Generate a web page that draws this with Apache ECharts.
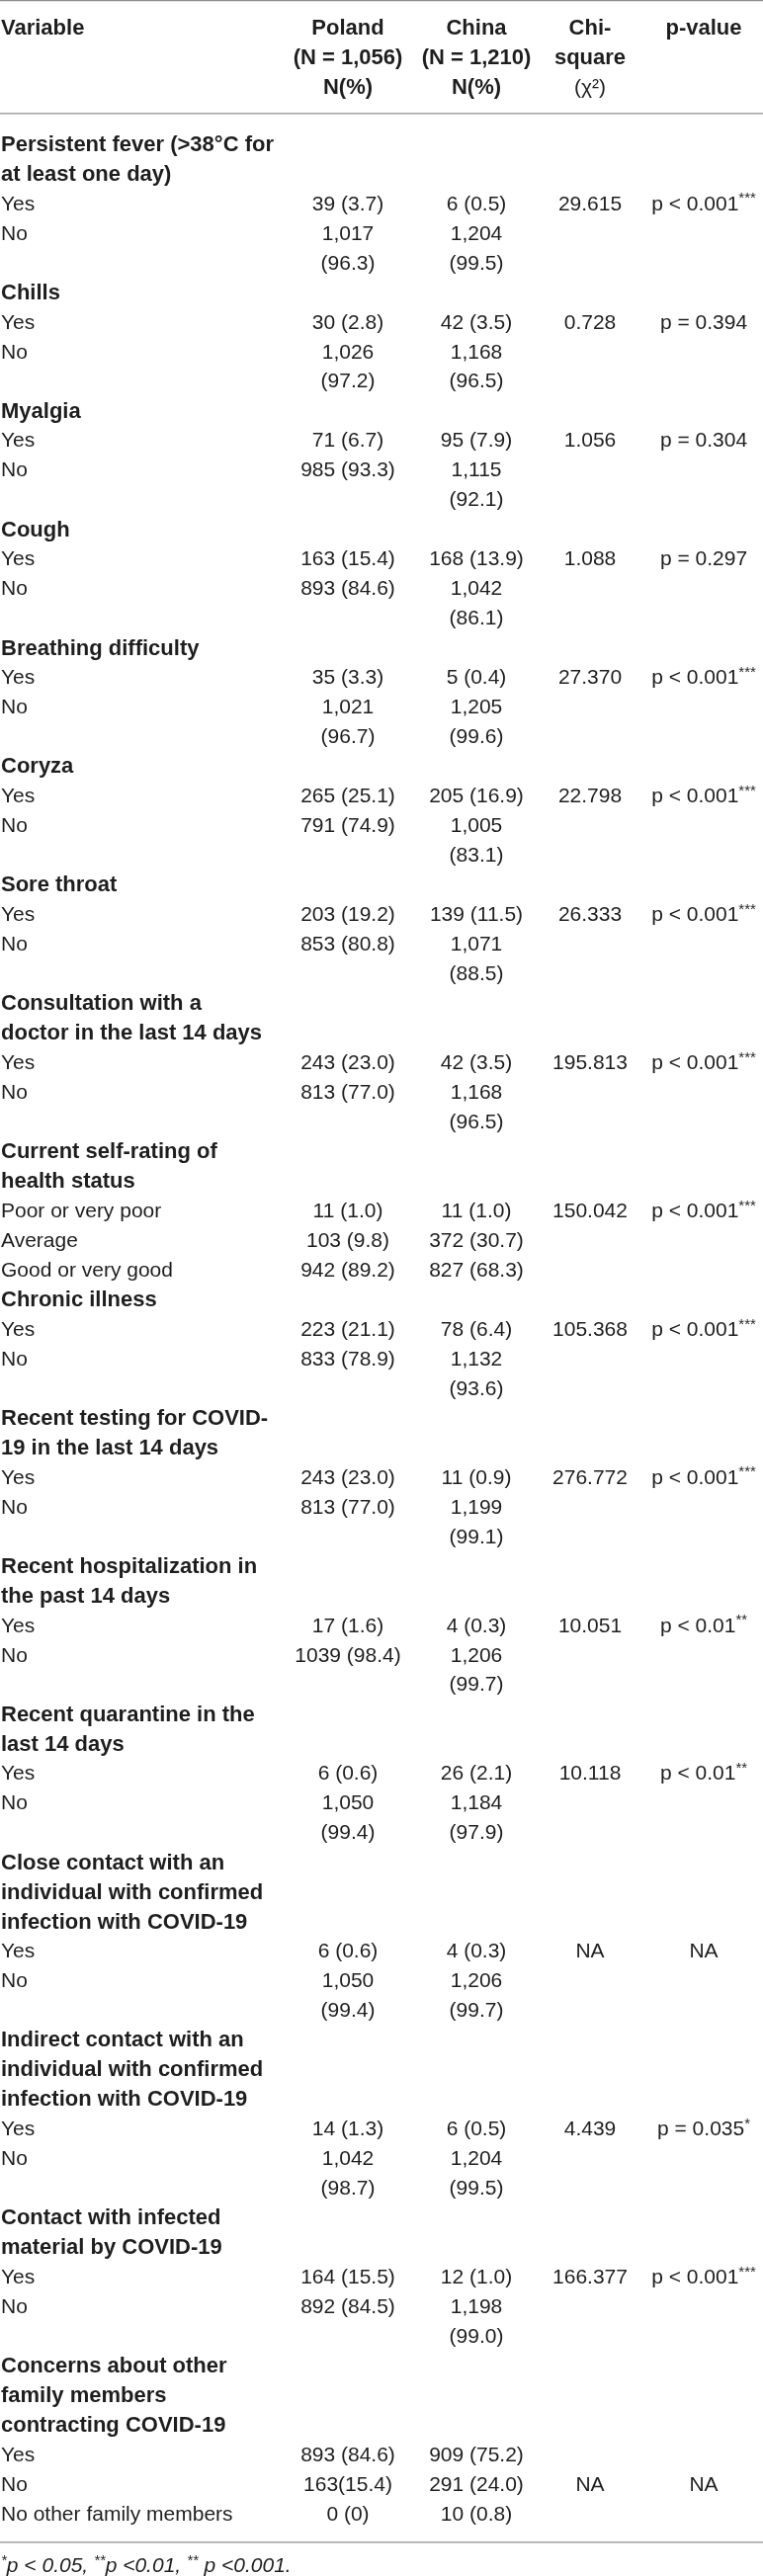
<!DOCTYPE html>
<html>
<head>
<meta charset="utf-8">
<title>Symptoms and exposure, Poland vs China</title>
<script src="https://cdn.jsdelivr.net/npm/echarts@6/dist/echarts.min.js"></script>
<style>
  html, body { margin: 0; padding: 0; background: #fff; }
  #table { width: 772px; height: 2607px; }
</style>
</head>
<body>
<div id="table"></div>
<script>
// table content
const headerCols = [
    'Variable',
    'Poland\n(N = 1,056)\nN(%)',
    'China\n(N = 1,210)\nN(%)',
    'Chi-\nsquare\n(χ²)',
    'p-value'
];

const groups = [
    'Persistent fever (>38°C for\nat least one day)',
    'Chills',
    'Myalgia',
    'Cough',
    'Breathing difficulty',
    'Coryza',
    'Sore throat',
    'Consultation with a\ndoctor in the last 14 days',
    'Current self-rating of\nhealth status',
    'Chronic illness',
    'Recent testing for COVID-\n19 in the last 14 days',
    'Recent hospitalization in\nthe past 14 days',
    'Recent quarantine in the\nlast 14 days',
    'Close contact with an\nindividual with confirmed\ninfection with COVID-19',
    'Indirect contact with an\nindividual with confirmed\ninfection with COVID-19',
    'Contact with infected\nmaterial by COVID-19',
    'Concerns about other\nfamily members\ncontracting COVID-19'
];

const YN = ['Yes', 'No'];
const levels = [
    YN, YN, YN, YN, YN, YN, YN, YN,
    ['Poor or very poor', 'Average', 'Good or very good'],
    YN, YN, YN, YN, YN, YN, YN,
    ['Yes', 'No', 'No other family members']
];

const poland = [
    ['39 (3.7)', '1,017\n(96.3)'],
    ['30 (2.8)', '1,026\n(97.2)'],
    ['71 (6.7)', '985 (93.3)'],
    ['163 (15.4)', '893 (84.6)'],
    ['35 (3.3)', '1,021\n(96.7)'],
    ['265 (25.1)', '791 (74.9)'],
    ['203 (19.2)', '853 (80.8)'],
    ['243 (23.0)', '813 (77.0)'],
    ['11 (1.0)', '103 (9.8)', '942 (89.2)'],
    ['223 (21.1)', '833 (78.9)'],
    ['243 (23.0)', '813 (77.0)'],
    ['17 (1.6)', '1039 (98.4)'],
    ['6 (0.6)', '1,050\n(99.4)'],
    ['6 (0.6)', '1,050\n(99.4)'],
    ['14 (1.3)', '1,042\n(98.7)'],
    ['164 (15.5)', '892 (84.5)'],
    ['893 (84.6)', '163(15.4)', '0 (0)']
];

const china = [
    ['6 (0.5)', '1,204\n(99.5)'],
    ['42 (3.5)', '1,168\n(96.5)'],
    ['95 (7.9)', '1,115\n(92.1)'],
    ['168 (13.9)', '1,042\n(86.1)'],
    ['5 (0.4)', '1,205\n(99.6)'],
    ['205 (16.9)', '1,005\n(83.1)'],
    ['139 (11.5)', '1,071\n(88.5)'],
    ['42 (3.5)', '1,168\n(96.5)'],
    ['11 (1.0)', '372 (30.7)', '827 (68.3)'],
    ['78 (6.4)', '1,132\n(93.6)'],
    ['11 (0.9)', '1,199\n(99.1)'],
    ['4 (0.3)', '1,206\n(99.7)'],
    ['26 (2.1)', '1,184\n(97.9)'],
    ['4 (0.3)', '1,206\n(99.7)'],
    ['6 (0.5)', '1,204\n(99.5)'],
    ['12 (1.0)', '1,198\n(99.0)'],
    ['909 (75.2)', '291 (24.0)', '10 (0.8)']
];

const chiSquare = ['29.615', '0.728', '1.056', '1.088', '27.370', '22.798', '26.333', '195.813',
    '150.042', '105.368', '276.772', '10.051', '10.118', 'NA', '4.439', '166.377', 'NA'];
const pValue = ['p < 0.001***', 'p = 0.394', 'p = 0.304', 'p = 0.297', 'p < 0.001***', 'p < 0.001***',
    'p < 0.001***', 'p < 0.001***', 'p < 0.001***', 'p < 0.001***', 'p < 0.001***', 'p < 0.01**',
    'p < 0.01**', 'NA', 'p = 0.035*', 'p < 0.001***', 'NA'];
// which level row carries the test result
const testRow = [0, 0, 0, 0, 0, 0, 0, 0, 0, 0, 0, 0, 0, 0, 0, 0, 1];

const footnote = '*p < 0.05, **p <0.01, ** p <0.001.';

// layout
const colX = [1, 352, 482, 597, 712];
const colAlign = ['left', 'center', 'center', 'center', 'center'];
const headLines = [-2.95, -1.93, -0.93];
const FAMILY = '"Liberation Sans", Arial, Helvetica, sans-serif';
const INK = '#1e1e1e';

const cells = [];
headerCols.forEach(function (txt, ci) {
    txt.split('\n').forEach(function (t, li) {
        cells.push({col: ci, line: headLines[li], text: t, kind: t.indexOf('χ') >= 0 ? 'plain' : 'bold'});
    });
});

let line = 1;
groups.forEach(function (g, gi) {
    g.split('\n').forEach(function (t) {
        cells.push({col: 0, line: line, text: t, kind: 'bold'});
        line++;
    });
    levels[gi].forEach(function (lv, ri) {
        const hasTest = ri === testRow[gi];
        const row = [lv, poland[gi][ri], china[gi][ri], hasTest ? chiSquare[gi] : '', hasTest ? pValue[gi] : ''];
        let h = 1;
        row.forEach(function (txt, ci) {
            if (!txt) return;
            const parts = txt.split('\n');
            h = Math.max(h, parts.length);
            parts.forEach(function (t, k) {
                cells.push({col: ci, line: line + k, text: t, kind: 'plain'});
            });
        });
        line += h;
    });
});
const lastLine = line - 1;
cells.push({col: 0, line: lastLine + 1.73, text: footnote, kind: 'foot'});

const rules = [-3.88, -0.07, lastLine + 0.93];

const fonts = {
    plain: '21px ' + FAMILY,
    bold: 'bold 22px ' + FAMILY,
    foot: 'italic 21px ' + FAMILY
};

function withSup(t) {
    return t.replace(/(\*+)/g, '{sup|$1}');
}

const chart = echarts.init(document.getElementById('table'));

chart.setOption({
    animation: false,
    grid: {left: 0, right: 0, top: 0, bottom: 5},
    xAxis: {type: 'value', min: 0, max: 772, show: false},
    yAxis: {type: 'value', inverse: true, min: -3.9, max: lastLine + 1.9, show: false},
    series: [
        {
            type: 'custom',
            silent: true,
            data: rules.map(function (r) { return [0, r]; }),
            renderItem: function (params, api) {
                const a = api.coord([0, api.value(1)]);
                const b = api.coord([772, api.value(1)]);
                return {
                    type: 'line',
                    shape: {x1: a[0], y1: a[1], x2: b[0], y2: b[1]},
                    style: {stroke: '#8f8f8f', lineWidth: 1.3}
                };
            }
        },
        {
            type: 'custom',
            silent: true,
            data: cells.map(function (c) { return [colX[c.col], c.line]; }),
            renderItem: function (params, api) {
                const c = cells[params.dataIndex];
                const p = api.coord([api.value(0), api.value(1)]);
                const font = fonts[c.kind];
                const supFont = (c.kind === 'foot' ? 'italic ' : '') + '15px ' + FAMILY;
                return {
                    type: 'text',
                    x: p[0],
                    y: p[1],
                    style: {
                        text: withSup(c.text),
                        font: font,
                        fill: INK,
                        lineHeight: 26,
                        align: colAlign[c.col],
                        verticalAlign: 'middle',
                        rich: {
                            sup: {font: supFont, fill: INK, lineHeight: 15, verticalAlign: 'top'}
                        }
                    }
                };
            }
        }
    ]
});
</script>
</body>
</html>
